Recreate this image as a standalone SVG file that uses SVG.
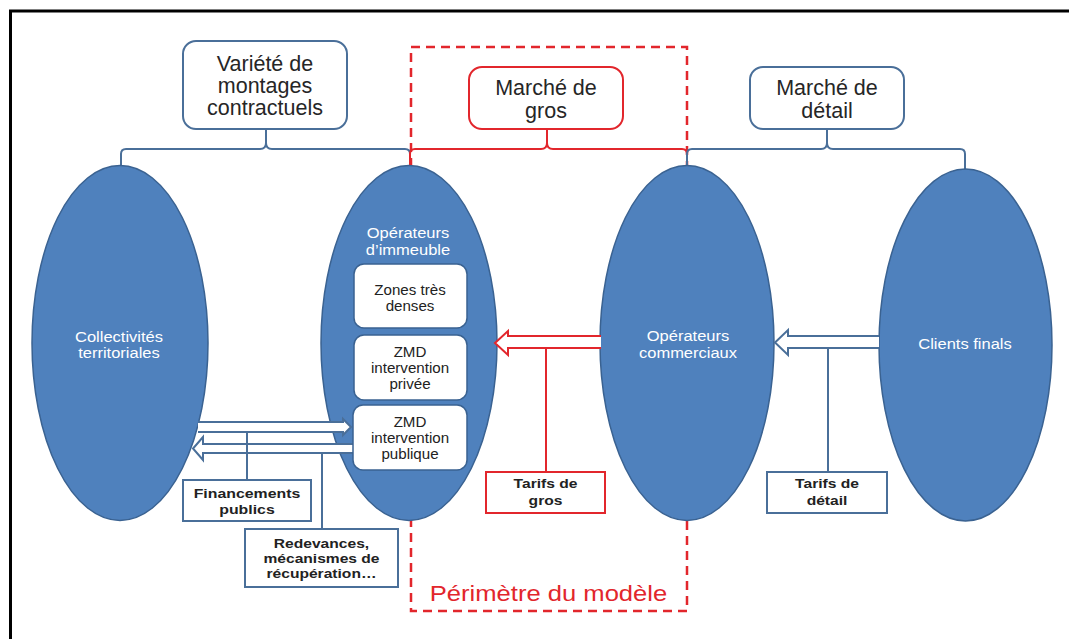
<svg xmlns="http://www.w3.org/2000/svg" width="1069" height="639" viewBox="0 0 1069 639">
<style>
.ell{fill:#4F81BD;stroke:#3A6291;stroke-width:1.5}
.bbox{fill:#fff;stroke:#4A6F99;stroke-width:2}
.rbox{fill:#fff;stroke:#E2262C;stroke-width:2}
.ibox{fill:#fff;stroke:#3A6291;stroke-width:1.5}
.blue{fill:none;stroke:#4A6F99;stroke-width:2}
.red{fill:none;stroke:#E2262C;stroke-width:2}
.barrow{fill:#fff;stroke:#4A6F99;stroke-width:2}
.rarrow{fill:#fff;stroke:#E2262C;stroke-width:2}
.t{font-family:"Liberation Sans",Arial,sans-serif;text-anchor:middle}
.big{font-size:21.5px;fill:#262626}
.w{font-size:15px;fill:#fff}
.in{font-size:14px;fill:#222}
.b{font-size:13px;font-weight:bold;fill:#222}
.per{font-size:21.5px;fill:#E2262C}
</style>
<rect width="1069" height="639" fill="#fff"/>
<g id="frame">
<line x1="9" y1="11" x2="1069" y2="11" stroke="#000" stroke-width="3"/>
<line x1="10.5" y1="10" x2="10.5" y2="639" stroke="#000" stroke-width="3"/>
</g>
<g id="perimetre">
<rect x="411" y="47" width="276" height="564" fill="none" stroke="#E2262C" stroke-width="2.5" stroke-dasharray="9 6"/>
<text class="t per" transform="matrix(1.19 0 0 1 548.5 0)" x="0" y="601">Périmètre du modèle</text>
</g>
<g id="box-montages">
<rect class="bbox" x="183" y="41" width="164" height="88" rx="13"/>
<text class="t big"><tspan x="265" y="71">Variété de</tspan><tspan x="265" y="93">montages</tspan><tspan x="265" y="115">contractuels</tspan></text>
</g>
<g id="box-gros">
<rect class="rbox" x="469" y="67" width="154" height="62" rx="13"/>
<text class="t big"><tspan x="546" y="95">Marché de</tspan><tspan x="546" y="118">gros</tspan></text>
</g>
<g id="box-detail">
<rect class="bbox" x="750" y="67" width="154" height="62" rx="13"/>
<text class="t big"><tspan x="827" y="95">Marché de</tspan><tspan x="827" y="118">détail</tspan></text>
</g>
<g id="brackets">
<path class="blue" d="M121,167 V154 Q121,149 126,149 H260 Q266,149 266,143 V129 M266,143 Q266,149 272,149 H405 Q410,149 410,154 V167"/>
<path class="red" d="M410,167 V154 Q410,149 415,149 H541 Q547,149 547,143 V129 M547,143 Q547,149 553,149 H682 Q687,149 687,154 V167"/>
<path class="blue" d="M687,167 V154 Q687,149 692,149 H821 Q827,149 827,143 V129 M827,143 Q827,149 833,149 H960 Q965,149 965,154 V170"/>
</g>
<g id="collectivites">
<ellipse class="ell" cx="120" cy="343" rx="88" ry="177.5"/>
<text class="t w" transform="matrix(1.1 0 0 1 119 0)"><tspan x="0" y="342">Collectivités</tspan><tspan x="0" y="358">territoriales</tspan></text>
</g>
<g id="operateurs-immeuble">
<ellipse class="ell" cx="409" cy="343" rx="88" ry="177.5"/>
<text class="t w" transform="matrix(1.1 0 0 1 408 0)"><tspan x="0" y="238">Opérateurs</tspan><tspan x="0" y="255">d’immeuble</tspan></text>
</g>
<g id="operateurs-commerciaux">
<ellipse class="ell" cx="687" cy="343" rx="87" ry="177.5"/>
<text class="t w" transform="matrix(1.1 0 0 1 688 0)"><tspan x="0" y="341">Opérateurs</tspan><tspan x="0" y="358">commerciaux</tspan></text>
</g>
<g id="clients-finals">
<ellipse class="ell" cx="965.5" cy="345" rx="86.5" ry="176"/>
<text class="t w" transform="matrix(1.1 0 0 1 965 0)" x="0" y="349">Clients finals</text>
</g>
<g id="connectors">
<path class="rarrow" d="M601,336 H508 V331 L495,343 L508,355 V348 H601"/>
<line class="red" x1="546" y1="348" x2="546" y2="472"/>
<path class="barrow" d="M879,336 H788 V330 L775,342.5 L788,355 V348 H879"/>
<line class="blue" x1="828" y1="348" x2="828" y2="472"/>
<path class="barrow" d="M198,422 H343 V419 L351,427 L343,435 V432 H198"/>
<path class="barrow" d="M355,444 H203 V437 L193,448.5 L203,460 V453 H355"/>
<line class="blue" x1="247" y1="432" x2="247" y2="480"/>
<line class="blue" x1="322" y1="453" x2="322" y2="529"/>
</g>
<g id="zones-tres-denses">
<rect class="ibox" x="354" y="264" width="113" height="64" rx="10"/>
<text class="t in" transform="matrix(1.08 0 0 1 410 0)"><tspan x="0" y="295">Zones très</tspan><tspan x="0" y="311">denses</tspan></text>
</g>
<g id="zmd-privee">
<rect class="ibox" x="354" y="335" width="113" height="65" rx="10"/>
<text class="t in" transform="matrix(1.08 0 0 1 410 0)"><tspan x="0" y="357">ZMD</tspan><tspan x="0" y="373">intervention</tspan><tspan x="0" y="389">privée</tspan></text>
</g>
<g id="zmd-publique">
<rect class="ibox" x="353" y="405" width="114" height="65" rx="10"/>
<text class="t in" transform="matrix(1.08 0 0 1 410 0)"><tspan x="0" y="427">ZMD</tspan><tspan x="0" y="443">intervention</tspan><tspan x="0" y="459">publique</tspan></text>
</g>
<g id="financements">
<rect class="bbox" x="183" y="480" width="128" height="41"/>
<text class="t b" transform="matrix(1.22 0 0 1 247 0)"><tspan x="0" y="498">Financements</tspan><tspan x="0" y="514">publics</tspan></text>
</g>
<g id="redevances">
<rect class="bbox" x="245" y="529" width="153" height="58"/>
<text class="t b" transform="matrix(1.2 0 0 1 321.5 0)"><tspan x="0" y="548">Redevances,</tspan><tspan x="0" y="563">mécanismes de</tspan><tspan x="0" y="578">récupération…</tspan></text>
</g>
<g id="tarifs-gros">
<rect class="rbox" x="486" y="472" width="119" height="41"/>
<text class="t b" transform="matrix(1.2 0 0 1 545.5 0)"><tspan x="0" y="488">Tarifs de</tspan><tspan x="0" y="505">gros</tspan></text>
</g>
<g id="tarifs-detail">
<rect class="bbox" x="767" y="472" width="120" height="41"/>
<text class="t b" transform="matrix(1.2 0 0 1 827 0)"><tspan x="0" y="488">Tarifs de</tspan><tspan x="0" y="505">détail</tspan></text>
</g>
</svg>
